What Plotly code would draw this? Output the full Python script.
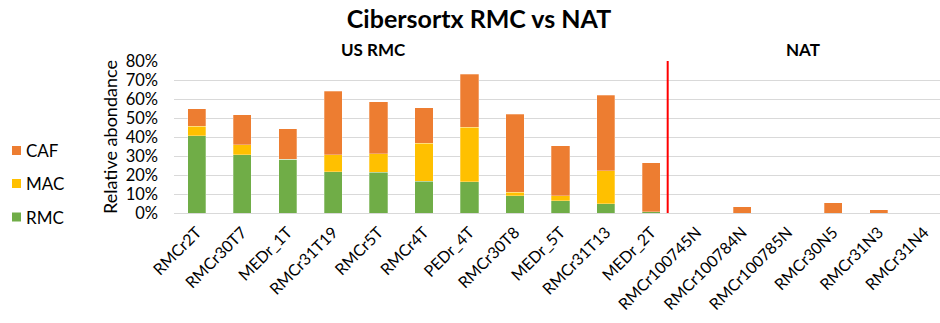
import plotly.graph_objects as go

# Samples (tumour RMC cohort followed by normal adjacent tissue)
samples = [
    "RMCr2T", "RMCr30T7", "MEDr_1T", "RMCr31T19", "RMCr5T", "RMCr4T",
    "PEDr_4T", "RMCr30T8", "MEDr_5T", "RMCr31T13", "MEDr_2T",
    "RMCr100745N", "RMCr100784N", "RMCr100785N", "RMCr30N5", "RMCr31N3", "RMCr31N4",
]

# Cibersortx relative abundances (fractions)
rmc = [0.407, 0.307, 0.283, 0.218, 0.215, 0.166, 0.164, 0.092, 0.064, 0.050, 0.006,
       0.0, 0.0, 0.0, 0.0, 0.0, 0.0]
mac = [0.049, 0.051, 0.0, 0.088, 0.097, 0.202, 0.288, 0.016, 0.027, 0.172, 0.0,
       0.0, 0.0, 0.0, 0.0, 0.0, 0.0]
caf = [0.092, 0.159, 0.160, 0.335, 0.273, 0.185, 0.277, 0.411, 0.262, 0.398, 0.259,
       0.0, 0.033, 0.0, 0.054, 0.017, 0.0]

series_names = ["RMC", "MAC", "CAF"]
series_values = [rmc, mac, caf]
series_colors = ["#70AD47", "#FFC000", "#ED7D31"]

y_ticks = [0, 0.1, 0.2, 0.3, 0.4, 0.5, 0.6, 0.7, 0.8]
group_labels = ["US RMC", "NAT"]

FONT = "Lato, Carlito, 'Open Sans', sans-serif"

fig = go.Figure()
for name, vals, col in zip(series_names, series_values, series_colors):
    fig.add_trace(go.Bar(
        x=samples, y=vals, name=name,
        marker=dict(color=col, line=dict(color="rgba(255,255,255,0.35)", width=0.8)),
        showlegend=False,
    ))

W, H = 940, 323
L, R, T, B = 174, 0, 61, 110
plot_w = W - L - R
ph = H - T - B
x_range = [-0.5, 16.35]

fig.update_layout(
    width=W, height=H,
    margin=dict(l=L, r=R, t=T, b=B, pad=0),
    barmode="stack", bargap=0.6,
    plot_bgcolor="white", paper_bgcolor="white",
    font=dict(family=FONT, color="#000000"),
    title=dict(text="<b>Cibersortx RMC vs NAT</b>", x=479 / W, xanchor="center",
               y=1 - 19 / H, yanchor="middle", font=dict(size=25, color="#000000")),
    xaxis=dict(range=x_range, tickangle=-45, tickfont=dict(size=16, color="#000000"),
               showgrid=False, showline=False, zeroline=False, ticks="",
               ticklabelstandoff=6, automargin=False, fixedrange=True),
    yaxis=dict(range=[0, 0.8], tickvals=y_ticks, tickformat=".0%",
               tickfont=dict(size=16.5, color="#000000"), showgrid=True,
               gridcolor="#D9D9D9", gridwidth=1, zeroline=True, zerolinecolor="#D9D9D9",
               zerolinewidth=1, showline=False, ticks="", ticklabelstandoff=15,
               automargin=False,
               title=dict(text="Relative abondance", font=dict(size=18, color="#000000"),
                          standoff=3)),
    showlegend=False,
)

# Divider between tumour and normal samples
split_x = 10.36
fig.add_shape(type="line", xref="x", yref="y", x0=split_x, x1=split_x,
              y0=-0.01, y1=0.81, line=dict(color="#FF0000", width=2))

# Group headings
for label, xc in zip(group_labels, [373.5, 802.5]):
    fig.add_annotation(text="<b>%s</b>" % label, xref="paper", yref="paper",
                       x=(xc - L) / plot_w, y=1 + (T - 50) / ph,
                       showarrow=False, font=dict(size=17), xanchor="center",
                       yanchor="middle")

# Legend keyed to the series colours (top entry = last stacked series)
legend_y = [217, 183.5, 150.5]
for name, col, yc in zip(series_names, series_colors, legend_y):
    yp = (H - B - yc) / ph
    fig.add_shape(type="rect", xref="paper", yref="paper",
                  x0=(12 - L) / plot_w, x1=(21 - L) / plot_w,
                  y0=yp - 4.5 / ph, y1=yp + 4.5 / ph,
                  fillcolor=col, line=dict(width=0))
    fig.add_annotation(text=name, xref="paper", yref="paper",
                       x=(24 - L) / plot_w, y=yp, xanchor="left", yanchor="middle",
                       showarrow=False, font=dict(size=17))

fig.write_html("out.html")
